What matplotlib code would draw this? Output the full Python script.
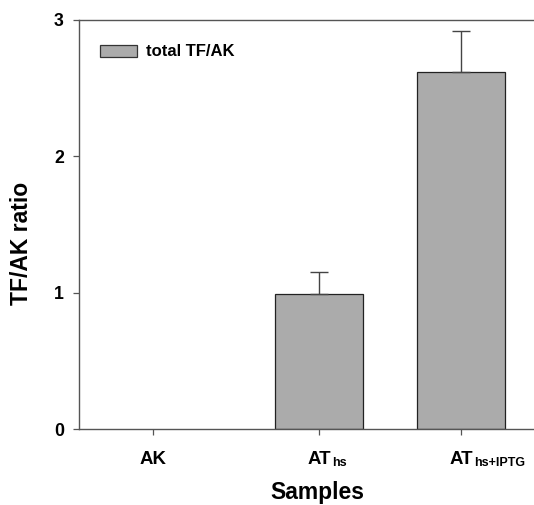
import matplotlib
matplotlib.use("Agg")
import matplotlib.pyplot as plt
from matplotlib.patches import Patch

cat_main = ["AK", "AT", "AT"]
cat_sub = ["", "hs", "hs+IPTG"]
values = [0.0, 0.99, 2.62]
errors_up = [0.0, 0.16, 0.30]
legend_label = "total TF/AK"
yticks = [0, 1, 2, 3]

plt.rcParams['font.family'] = ['Liberation Sans', 'DejaVu Sans']

W, H = 534, 505
PT = 72 / 100  # points per pixel at dpi 100
fig = plt.figure(figsize=(W / 100, H / 100), dpi=100)
ax_bottom, ax_top = 429, 20
ax_left, ax_right = 79, 540
ax = fig.add_axes([ax_left / W, (H - ax_bottom) / H,
                   (ax_right - ax_left) / W, (ax_bottom - ax_top) / H])

xpos = [0.0, 1.0, 1.853]
spine_c = '#555555'
ax.bar(xpos[1:], values[1:], width=0.53, color='#ababab', edgecolor='#222222',
       linewidth=0.9, zorder=2)
ax.errorbar(xpos[1:], values[1:], yerr=[[0, 0], errors_up[1:]], fmt='none',
            ecolor='#444444', elinewidth=1.0, capsize=6.5, capthick=1.0, zorder=3)

ax.set_xlim(-0.442, (ax_right - 152.6) / 166.4)
ax.set_ylim(0, 3)
ax.set_yticks(yticks)
ax.set_yticklabels([str(t) for t in yticks], fontsize=12.8, fontweight='bold')
ax.set_xticks(xpos)
ax.set_xticklabels([])
ax.tick_params(axis='both', direction='out', length=6 * PT, width=0.9, color=spine_c)
ax.tick_params(axis='y', pad=9 * PT)

# x tick labels: main text centred on tick, subscript hanging to the right
for x, m, s in zip(xpos, cat_main, cat_sub):
    t = ax.annotate(m, xy=(x, 0), xycoords=('data', 'axes fraction'),
                    xytext=(0, -(463.5 - ax_bottom) * PT), textcoords='offset points',
                    ha='center', va='baseline', fontsize=13.4, fontweight='bold',
                    annotation_clip=False)
    if s:
        ax.annotate(s, xy=(1, 0), xycoords=t, xytext=(1.2 * PT, 1.0 * PT),
                    textcoords='offset points', ha='left', va='baseline',
                    fontsize=9, fontweight='bold', annotation_clip=False)

for sp in ['left', 'bottom', 'top']:
    ax.spines[sp].set_color(spine_c)
    ax.spines[sp].set_linewidth(1.0)
ax.spines['right'].set_visible(False)

ax.set_ylabel("TF/AK ratio", fontsize=16.5, fontweight='bold')
ax.yaxis.set_label_coords((33 - ax_left) / (ax_right - ax_left), (ax_bottom - 243.7) / (ax_bottom - ax_top))
ax.set_xlabel("Samples", fontsize=16.5, fontweight='bold')
ax.xaxis.set_label_coords((317 - ax_left) / (ax_right - ax_left), -(481 - ax_bottom) / (ax_bottom - ax_top))

handle = Patch(facecolor='#ababab', edgecolor='#333333', linewidth=0.9)
fig.legend([handle], [legend_label], loc='upper left',
           bbox_to_anchor=(100 / W, (H - 44.5) / H), frameon=False,
           prop={'weight': 'bold', 'size': 12}, handlelength=2.2,
           handleheight=0.75, handletextpad=0.55, borderpad=0, borderaxespad=0)

fig.savefig("out.png", dpi=100)
